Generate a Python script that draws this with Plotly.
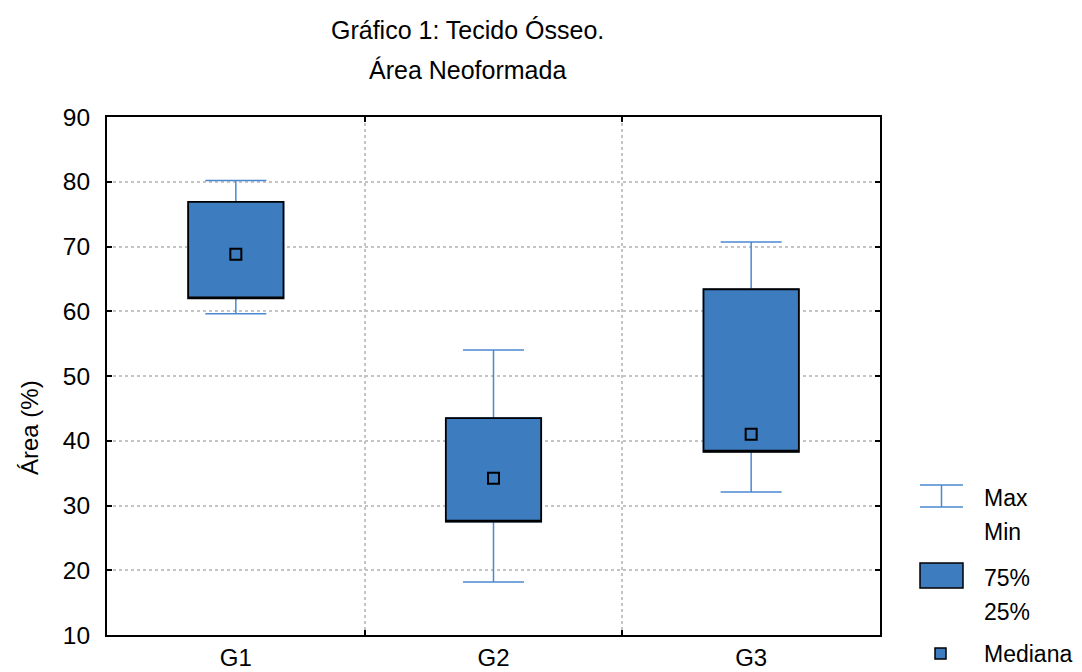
import plotly.graph_objects as go

groups = ["G1", "G2", "G3"]
minimum = [59.6, 18.2, 32.1]
q25 = [62.0, 27.5, 38.3]
median = [68.8, 34.2, 41.0]
q75 = [76.9, 43.5, 63.4]
maximum = [80.2, 54.0, 70.7]

y_ticks = [10, 20, 30, 40, 50, 60, 70, 80, 90]
title_lines = ["Gráfico 1: Tecido Ósseo.", "Área Neoformada"]
y_title = "Área (%)"
legend_lines = ["Max", "Min", "75%", "25%", "Mediana"]

BLUE = "#3d7dbf"
WHISK = "#4a89cf"
FONT = "Liberation Sans, Arial, sans-serif"

OFF = 8  # default body margin of the page
W, H = 1082 - OFF, 672 - OFF
L, R, T, B = 107 - OFF, 880 - OFF, 117 - OFF, 635 - OFF

fig = go.Figure()

# whiskers with caps (box part is covered by the next trace)
fig.add_trace(go.Box(
    x=groups, q1=q25, median=median, q3=q75,
    lowerfence=minimum, upperfence=maximum,
    width=0.37, whiskerwidth=0.64,
    line=dict(color=WHISK, width=1.5),
    fillcolor=BLUE,
    boxpoints=False, hoverinfo="skip", showlegend=False,
))

# 25%-75% box with black outline
fig.add_trace(go.Box(
    x=groups, q1=q25, median=q25, q3=q75,
    lowerfence=q25, upperfence=q75,
    width=0.37, whiskerwidth=0,
    line=dict(color="black", width=1.8),
    fillcolor=BLUE,
    boxpoints=False, showlegend=False,
))

# median marker
fig.add_trace(go.Scatter(
    x=groups, y=median, mode="markers",
    marker=dict(symbol="square", size=11, color=BLUE,
                line=dict(color="black", width=2)),
    showlegend=False,
))


def px(xp):
    return (xp - OFF - L) / (R - L)


def py(yp):
    return (B - (yp - OFF)) / (B - T)


shapes = [
    dict(type="line", xref="paper", yref="paper", x0=px(920), x1=px(963), y0=py(485), y1=py(485),
         line=dict(color=WHISK, width=1.5)),
    dict(type="line", xref="paper", yref="paper", x0=px(920), x1=px(963), y0=py(507), y1=py(507),
         line=dict(color=WHISK, width=1.5)),
    dict(type="line", xref="paper", yref="paper", x0=px(941.5), x1=px(941.5), y0=py(485), y1=py(507),
         line=dict(color=WHISK, width=1.5)),
    dict(type="rect", xref="paper", yref="paper", x0=px(920), x1=px(963), y0=py(563), y1=py(588),
         fillcolor=BLUE, line=dict(color="black", width=1.5)),
    dict(type="rect", xref="paper", yref="paper", x0=px(935), x1=px(946), y0=py(648), y1=py(659),
         fillcolor=BLUE, line=dict(color="black", width=1.5)),
]

annotations = []
for text, ycen in zip(legend_lines, [498, 532, 578, 612, 654]):
    annotations.append(dict(
        text=text, xref="paper", yref="paper", x=px(982), y=py(ycen),
        xanchor="left", yanchor="middle", showarrow=False, align="left",
        font=dict(family=FONT, size=23, color="black"),
    ))

for text, ycen in zip(title_lines, [30, 70]):
    annotations.append(dict(
        text=text, xref="paper", yref="paper", x=px(467.5), y=py(ycen),
        xanchor="center", yanchor="middle", showarrow=False,
        font=dict(family=FONT, size=25, color="black"),
    ))

annotations.append(dict(
    text=y_title, xref="paper", yref="paper", x=px(29), y=py(428),
    xanchor="center", yanchor="middle", showarrow=False, textangle=-90,
    font=dict(family=FONT, size=24, color="black"),
))

fig.update_layout(
    width=W, height=H,
    margin=dict(l=L, r=W - R, t=T, b=H - B, autoexpand=False),
    paper_bgcolor="white", plot_bgcolor="white",
    font=dict(family=FONT, size=24, color="black"),
    showlegend=False,
    shapes=shapes, annotations=annotations,
    boxmode="overlay",
    xaxis=dict(
        type="category", range=[-0.5, 2.5], tickson="boundaries",
        showgrid=True, gridcolor="#c4c4c4", griddash="dot", gridwidth=1.5,
        showline=True, linecolor="black", linewidth=2, mirror="ticks",
        ticks="inside", ticklen=5, tickcolor="black", tickwidth=1.5,
        tickfont=dict(size=24), automargin=False, ticklabelstandoff=0,
    ),
    yaxis=dict(
        range=[10, 90], tickvals=y_ticks,
        showgrid=True, gridcolor="#c4c4c4", griddash="dot", gridwidth=1.5,
        showline=True, linecolor="black", linewidth=2, mirror="ticks",
        ticks="inside", ticklen=5, tickcolor="black", tickwidth=1.5,
        tickfont=dict(size=24.5), zeroline=False, automargin=False,
        ticklabelstandoff=10,
    ),
)

fig.write_html("out.html")
